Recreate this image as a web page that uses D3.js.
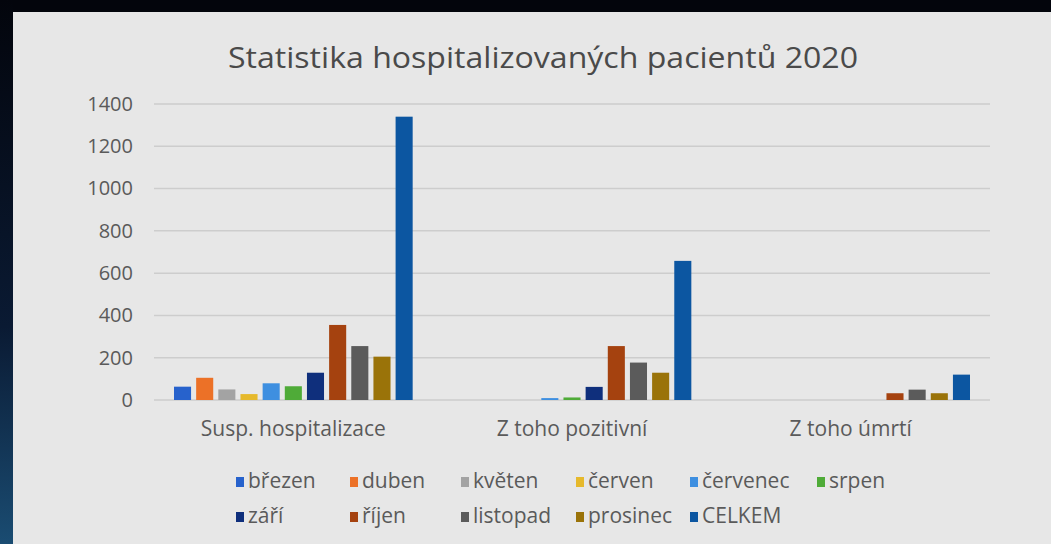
<!DOCTYPE html>
<html lang="cs">
<head>
<meta charset="utf-8">
<title>Statistika hospitalizovaných pacientů 2020</title>
<script src="https://d3js.org/d3.v7.min.js"></script>
<style>
body { margin: 0; background: #04070f; }
svg { display: block; font-family: "Open Sans", sans-serif; }
</style>
</head>
<body>
<svg width="1051" height="544"></svg>
<script>
// data
var categories = ["Susp. hospitalizace", "Z toho pozitivní", "Z toho úmrtí"];
var months = ["březen", "duben", "květen", "červen", "červenec", "srpen",
              "září", "říjen", "listopad", "prosinec", "CELKEM"];
var brezen   = [63, 0, 0];
var duben    = [105, 0, 0];
var kveten   = [50, 0, 0];
var cerven   = [28, 0, 0];
var cervenec = [79, 9, 0];
var srpen    = [65, 12, 0];
var zari     = [129, 62, 0];
var rijen    = [355, 255, 32];
var listopad = [255, 177, 49];
var prosinec = [205, 129, 32];
var celkem   = [1340, 658, 120];
var yTicks = [0, 200, 400, 600, 800, 1000, 1200, 1400];

var series = [brezen, duben, kveten, cerven, cervenec, srpen,
              zari, rijen, listopad, prosinec, celkem];
var colors = ["#2762cc", "#ec7127", "#a3a3a3", "#e6b92c", "#3e8fe0", "#4fab38",
              "#0f2f7c", "#a5420f", "#5b5b5b", "#9a7309", "#0c56a1"];

var svg = d3.select("svg");

// backdrop: dark sky with a lighter slide panel
var defs = svg.append("defs");
var g1 = defs.append("linearGradient").attr("id", "sky")
    .attr("x1", 0).attr("y1", 0).attr("x2", 0).attr("y2", 1);
g1.append("stop").attr("offset", "0%").attr("stop-color", "#03050c");
g1.append("stop").attr("offset", "60%").attr("stop-color", "#0a1a33");
g1.append("stop").attr("offset", "100%").attr("stop-color", "#1a4c72");
svg.append("rect").attr("width", 1051).attr("height", 544).attr("fill", "#03050c");
svg.append("rect").attr("x", 0).attr("y", 0).attr("width", 13).attr("height", 544).attr("fill", "url(#sky)");
svg.append("rect").attr("x", 13).attr("y", 12).attr("width", 1038).attr("height", 532).attr("fill", "#e7e7e7");

var x0 = d3.scaleBand().domain(categories).range([154, 990]);
var x1 = d3.scaleBand().domain(months)
    .range([20, x0.bandwidth() - 20]).paddingInner(0.23);
var y = d3.scaleLinear().domain([0, 1400]).range([400, 104]);

// gridlines
svg.append("g").selectAll("line").data(yTicks).enter().append("line")
    .attr("x1", 154).attr("x2", 990)
    .attr("y1", function(d) { return y(d); })
    .attr("y2", function(d) { return y(d); })
    .attr("stroke", "#cdcdcd").attr("stroke-width", 1.5);

// y axis labels
var yAxis = svg.append("g").attr("transform", "translate(140,0)")
    .call(d3.axisLeft(y).tickValues(yTicks).tickFormat(d3.format("d"))
      .tickSize(0).tickPadding(7));
yAxis.select(".domain").remove();
yAxis.selectAll("text").attr("font-size", 20).attr("fill", "#5a5a5a")
    .attr("font-family", "Open Sans, sans-serif");

// bars
var groups = svg.append("g").selectAll("g").data(categories).enter().append("g")
    .attr("transform", function(d) { return "translate(" + x0(d) + ",0)"; });
groups.selectAll("rect")
    .data(function(c, ci) { return months.map(function(m, i) { return { m: m, v: series[i][ci], i: i }; }); })
    .enter().append("rect")
    .attr("x", function(d) { return x1(d.m); })
    .attr("width", x1.bandwidth())
    .attr("y", function(d) { return y(d.v); })
    .attr("height", function(d) { return y(0) - y(d.v); })
    .attr("fill", function(d) { return colors[d.i]; });

// category labels
var xAxis = svg.append("g").attr("transform", "translate(0,400)")
    .call(d3.axisBottom(x0).tickSize(0).tickPadding(21));
xAxis.select(".domain").remove();
xAxis.selectAll("text").attr("font-size", 21).attr("fill", "#5a5a5a")
    .attr("font-family", "Open Sans, sans-serif");

// title
svg.append("text").attr("x", 543).attr("y", 68).attr("text-anchor", "middle")
    .attr("font-size", 29).attr("fill", "#4a4a4a")
    .attr("textLength", 630).attr("lengthAdjust", "spacingAndGlyphs")
    .text("Statistika hospitalizovaných pacientů 2020");

// legend, 6 columns, 2 rows
var perRow = 6;
var colX = [236, 350, 461, 576, 690, 817];
var legend = svg.append("g");
var items = legend.selectAll("g").data(months).enter().append("g")
    .attr("transform", function(d, i) {
      return "translate(" + colX[i % perRow] + "," + (488 + 35 * Math.floor(i / perRow)) + ")";
    });
items.append("rect").attr("width", 8).attr("height", 10)
    .attr("y", -11).attr("fill", function(d, i) { return colors[i]; });
items.append("text").attr("x", 12).attr("font-size", 21).attr("fill", "#5a5a5a")
    .text(function(d) { return d; });
</script>
</body>
</html>
